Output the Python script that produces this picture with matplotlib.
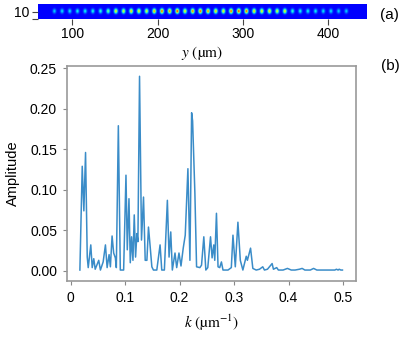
import numpy as np
import matplotlib
matplotlib.use('Agg')
import matplotlib.pyplot as plt

plt.rcParams['font.family'] = ['Liberation Sans', 'DejaVu Sans']
plt.rcParams['mathtext.fontset'] = 'stix'

# spectrum vertices
k = [0.017, 0.0213, 0.0243, 0.0274, 0.0305, 0.0323, 0.037, 0.0396, 0.0425, 0.0451,
     0.0516, 0.0547, 0.0597, 0.0639, 0.067, 0.0706, 0.073, 0.0761, 0.079, 0.0821,
     0.0839, 0.0876, 0.0912, 0.0973, 0.1016, 0.104, 0.1071, 0.1095, 0.1119, 0.1144,
     0.1168, 0.1192, 0.1217, 0.1235, 0.1265, 0.1301, 0.1338, 0.1369, 0.14, 0.1429,
     0.146, 0.1491, 0.152, 0.1582, 0.1642, 0.1673, 0.1721, 0.1776, 0.1807, 0.1838,
     0.1867, 0.1916, 0.1947, 0.1989, 0.2026, 0.2067, 0.2104, 0.2153, 0.219, 0.2221,
     0.2239, 0.2281, 0.2312, 0.2372, 0.2403, 0.2445, 0.2482, 0.2518, 0.2568, 0.2597,
     0.2628, 0.2646, 0.2677, 0.2706, 0.2737, 0.2768, 0.2797, 0.2889, 0.295, 0.298,
     0.3023, 0.3071, 0.3115, 0.3162, 0.3224, 0.3245, 0.3303, 0.3345, 0.3407, 0.3467,
     0.3527, 0.3558, 0.3613, 0.3699, 0.3723, 0.3783, 0.3814, 0.39, 0.398, 0.405,
     0.412, 0.42, 0.425, 0.43, 0.44, 0.446, 0.452, 0.47, 0.485, 0.488,
     0.491, 0.493, 0.496, 0.499]
amp = [0.001, 0.129, 0.074, 0.146, 0.017, 0.004, 0.032, 0.004, 0.015, 0.002,
       0.013, 0.001, 0.011, 0.032, 0.004, 0.020, 0.005, 0.043, 0.022, 0.016,
       0.004, 0.179, 0.001, 0.001, 0.118, 0.026, 0.089, 0.010, 0.042, 0.013,
       0.069, 0.017, 0.046, 0.036, 0.240, 0.038, 0.091, 0.013, 0.013, 0.054,
       0.030, 0.005, 0.001, 0.001, 0.032, 0.001, 0.001, 0.087, 0.017, 0.048,
       0.001, 0.022, 0.004, 0.022, 0.006, 0.028, 0.044, 0.126, 0.013, 0.195,
       0.185, 0.096, 0.005, 0.004, 0.007, 0.042, 0.001, 0.004, 0.042, 0.016,
       0.032, 0.013, 0.071, 0.005, 0.004, 0.011, 0.001, 0.001, 0.004, 0.044,
       0.005, 0.060, 0.013, 0.001, 0.018, 0.013, 0.028, 0.003, 0.001, 0.002,
       0.005, 0.001, 0.002, 0.009, 0.002, 0.004, 0.001, 0.001, 0.003, 0.001,
       0.001, 0.002, 0.003, 0.001, 0.001, 0.003, 0.001, 0.001, 0.001, 0.002,
       0.001, 0.002, 0.001, 0.001]

# spot positions (um) and brightness
spot_y = [79, 88, 97, 106, 115, 124, 133, 142, 151, 160, 169, 178, 187, 196,
          205, 214, 223, 232, 241, 250, 259, 268, 277, 286, 295, 304, 313, 322,
          331, 340, 349, 358, 367, 376, 385, 394, 403, 412, 421]
spot_int = [0.25, 0.28, 0.28, 0.30, 0.30, 0.32, 0.35, 0.45, 0.65, 0.6, 0.7, 0.65, 0.6, 0.75,
            0.85, 0.8, 0.9, 0.65, 0.8, 0.85, 0.8, 0.7, 0.65, 0.85, 0.9, 0.85, 0.7, 0.65,
            0.7, 0.6, 0.65, 0.35, 0.32, 0.3, 0.3, 0.28, 0.28, 0.25, 0.25]

fig = plt.figure(figsize=(4.15, 3.41), dpi=100)

# panel (a)
ax1 = fig.add_axes([0.0916, 0.944, 0.7924, 0.044])
yy = np.linspace(60, 445, 800)
zz = np.linspace(5, 15.5, 30)
Y, Z = np.meshgrid(yy, zz)
field = np.zeros_like(Y)
for p, a in zip(spot_y, spot_int):
    field += a * np.exp(-((Y - p) / 1.9) ** 2 - ((Z - 10.2) / 1.5) ** 2)
ax1.imshow(field, cmap='jet', vmin=-0.14, vmax=1, aspect='auto', origin='lower',
           extent=[60, 445, 5, 15.5], interpolation='bilinear')
ax1.set_xticks([100, 200, 300, 400])
ax1.set_yticks([5, 10])
ax1.set_yticklabels(['', '10'])
ax1.tick_params(labelsize=10, length=4, color='#444444', pad=2)
for s in ax1.spines.values():
    s.set_visible(False)
ax1.set_xlabel('$y$ (µm)', fontfamily='STIXGeneral', fontsize=11, labelpad=2)

# panel (b)
ax2 = fig.add_axes([0.161, 0.176, 0.697, 0.630])
ax2.plot(k, amp, color='#3a8cc8', lw=1.1)
ax2.set_ylim(-0.0125, 0.2525)
ax2.set_xlim(-0.007, 0.524)
ax2.set_xticks([0, 0.1, 0.2, 0.3, 0.4, 0.5])
ax2.set_xticklabels(['0', '0.1', '0.2', '0.3', '0.4', '0.5'])
ax2.set_yticks([0, 0.05, 0.10, 0.15, 0.20, 0.25])
ax2.set_yticklabels(['0.00', '0.05', '0.10', '0.15', '0.20', '0.25'])
ax2.tick_params(labelsize=10, length=3, color='#888888', pad=4)
for s in ax2.spines.values():
    s.set_color('#999999')
    s.set_linewidth(1.2)
ax2.set_ylabel('Amplitude', fontsize=10.5, labelpad=7)
ax2.set_xlabel('$k$ (µm$^{-1}$)', fontfamily='STIXGeneral', fontsize=11, labelpad=6)

fig.text(0.938, 0.955, '(a)', fontsize=11, ha='center', va='center')
fig.text(0.940, 0.806, '(b)', fontsize=11, ha='center', va='center')

fig.savefig('out.png', dpi=100)
